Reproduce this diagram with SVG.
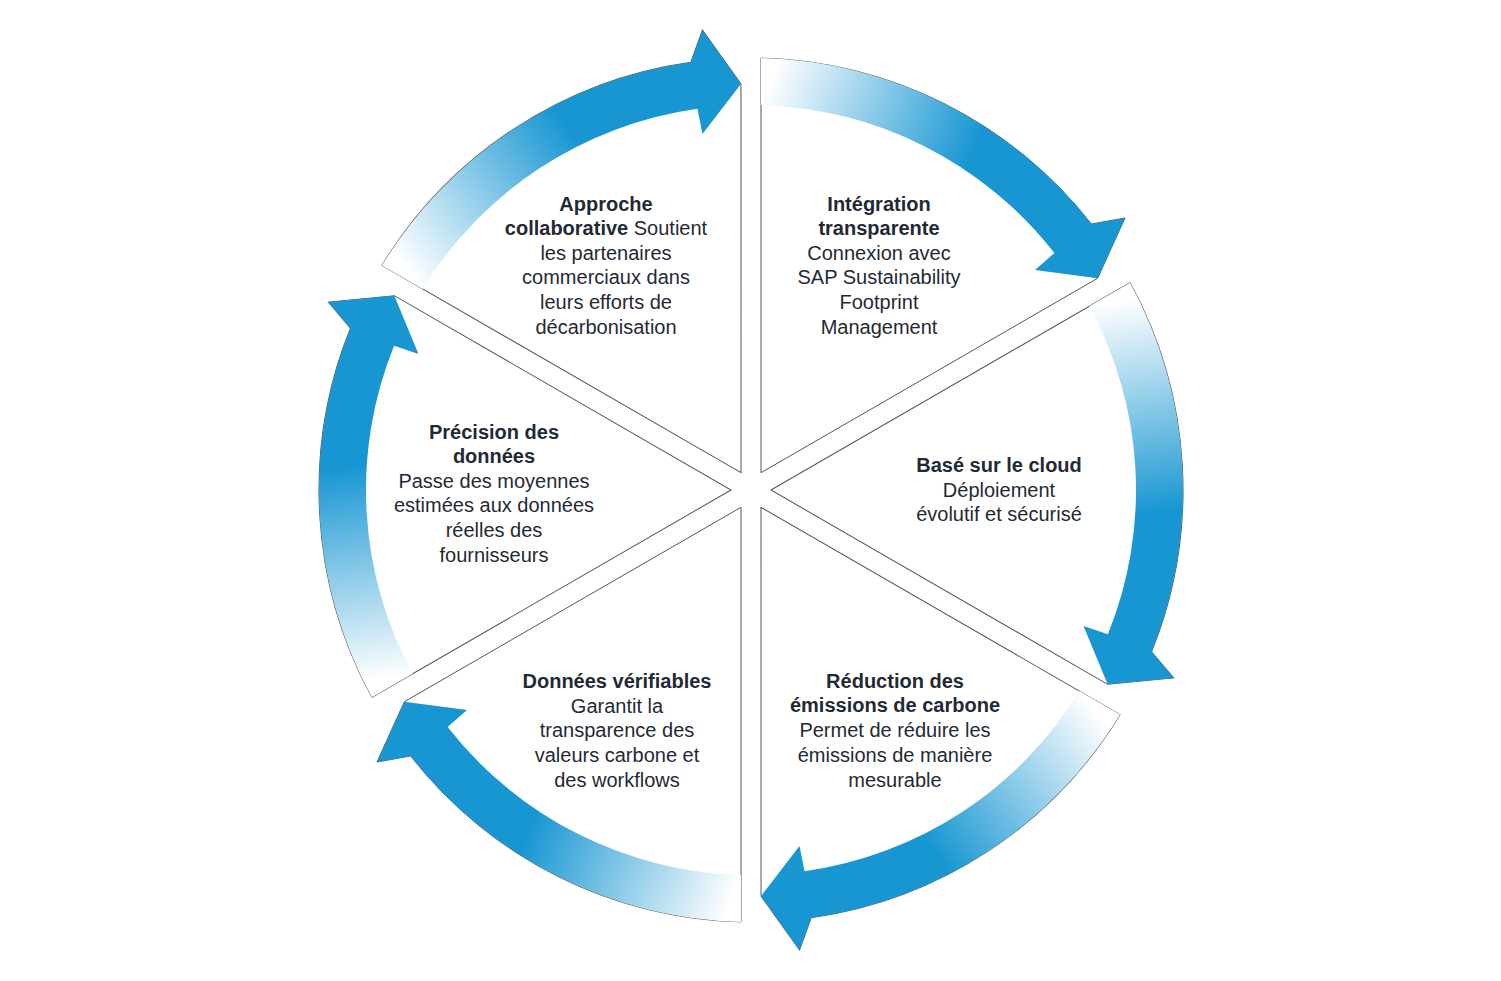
<svg xmlns="http://www.w3.org/2000/svg" width="1501" height="981" viewBox="0 0 1501 981">
<defs>
<linearGradient id="g" gradientUnits="userSpaceOnUse" x1="770" y1="80" x2="970" y2="160">
<stop offset="0" stop-color="#ffffff"/><stop offset="1" stop-color="#1796d2"/>
</linearGradient>
<path id="sec" d="M761,472.7 L761,58.1 A432,432 0 0 1 1091.4,224 L1125,218 L1097.6,278.3 Z"/>
<path id="arr" d="M761,58.1 A432,432 0 0 1 1091.4,224 L1125,218 L1097.6,278.3 L1035,270 L1054.4,253 A385,385 0 0 0 761,105.1 Z"/>
</defs>
<style>
.s{fill:#fff;stroke:#555;stroke-width:1}
.a{fill:url(#g)}
text{font-family:"Liberation Sans",Arial,sans-serif;font-size:20px;fill:#1f2a36;text-anchor:middle}
.b{font-weight:bold}
</style>
<rect width="1501" height="981" fill="#fff"/>
<g id="sector-integration"><use href="#sec" class="s"/></g>
<g id="sector-cloud"><use href="#sec" class="s" transform="rotate(60 751 490)"/></g>
<g id="sector-reduction"><use href="#sec" class="s" transform="rotate(120 751 490)"/></g>
<g id="sector-verifiable"><use href="#sec" class="s" transform="rotate(180 751 490)"/></g>
<g id="sector-precision"><use href="#sec" class="s" transform="rotate(240 751 490)"/></g>
<g id="sector-collab"><use href="#sec" class="s" transform="rotate(300 751 490)"/></g>
<g id="connectors">
<use href="#arr" class="a"/>
<use href="#arr" class="a" transform="rotate(60 751 490)"/>
<use href="#arr" class="a" transform="rotate(120 751 490)"/>
<use href="#arr" class="a" transform="rotate(180 751 490)"/>
<use href="#arr" class="a" transform="rotate(240 751 490)"/>
<use href="#arr" class="a" transform="rotate(300 751 490)"/>
</g>
<g id="text-collab">
<text x="606" y="211" class="b">Approche</text>
<text x="606" y="235"><tspan class="b">collaborative</tspan> Soutient</text>
<text x="606" y="260">les partenaires</text>
<text x="606" y="284">commerciaux dans</text>
<text x="606" y="309">leurs efforts de</text>
<text x="606" y="334">décarbonisation</text>
</g>
<g id="text-integration">
<text x="879" y="211" class="b">Intégration</text>
<text x="879" y="235" class="b">transparente</text>
<text x="879" y="260">Connexion avec</text>
<text x="879" y="284">SAP Sustainability</text>
<text x="879" y="309">Footprint</text>
<text x="879" y="334">Management</text>
</g>
<g id="text-cloud">
<text x="999" y="472" class="b">Basé sur le cloud</text>
<text x="999" y="497">Déploiement</text>
<text x="999" y="521">évolutif et sécurisé</text>
</g>
<g id="text-reduction">
<text x="895" y="688" class="b">Réduction des</text>
<text x="895" y="712" class="b">émissions de carbone</text>
<text x="895" y="737">Permet de réduire les</text>
<text x="895" y="762">émissions de manière</text>
<text x="895" y="787">mesurable</text>
</g>
<g id="text-verifiable">
<text x="617" y="688" class="b">Données vérifiables</text>
<text x="617" y="713">Garantit la</text>
<text x="617" y="737">transparence des</text>
<text x="617" y="762">valeurs carbone et</text>
<text x="617" y="787">des workflows</text>
</g>
<g id="text-precision">
<text x="494" y="439" class="b">Précision des</text>
<text x="494" y="463" class="b">données</text>
<text x="494" y="488">Passe des moyennes</text>
<text x="494" y="512">estimées aux données</text>
<text x="494" y="537">réelles des</text>
<text x="494" y="562">fournisseurs</text>
</g>
</svg>
